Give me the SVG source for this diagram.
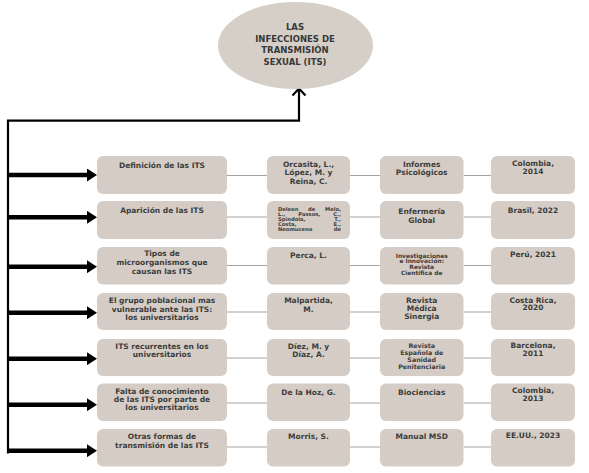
<svg xmlns="http://www.w3.org/2000/svg" width="589" height="473" viewBox="0 0 589 473">
<defs>
<style>
.bx{fill:#d5cdc5;}
.t{font-family:"DejaVu Sans","Liberation Sans",sans-serif;font-weight:bold;font-size:7.5px;fill:#3c3c3c;text-anchor:middle;}
.s{font-size:5.2px;}
.m{font-size:5.9px;}
.p{font-size:6.3px;}
.st{text-anchor:start;}
.en{text-anchor:end;}
.ti{font-size:8.5px;fill:#383838;}
.conn{stroke:#a3a3a3;stroke-width:1;fill:none;}
.bus{stroke:#000;stroke-width:2.2;fill:none;}
.arr{stroke:#000;stroke-width:4.6;fill:none;marker-end:url(#head);}
</style>
<marker id="head" markerUnits="userSpaceOnUse" markerWidth="10" markerHeight="13" refX="2" refY="6.5" orient="auto">
<path d="M0,0 L10,6.5 L0,13 Z" fill="#000"/>
</marker>
</defs>
<rect width="589" height="473" fill="#fff"/>

<g id="connectors">
<path class="bus" d="M8,453.5 V120.7 H299 V89"/>
<path class="bus" d="M292.5,95.5 L299,88.5 L305.5,95.5"/>
<line class="arr" x1="8" y1="175" x2="89" y2="175"/>
<line class="arr" x1="8" y1="217.3" x2="89" y2="217.3"/>
<line class="arr" x1="8" y1="266.7" x2="89" y2="266.7"/>
<line class="arr" x1="8" y1="312.7" x2="89" y2="312.7"/>
<line class="arr" x1="8" y1="358.7" x2="89" y2="358.7"/>
<line class="arr" x1="8" y1="404.7" x2="89" y2="404.7"/>
<line class="arr" x1="8" y1="450.7" x2="89" y2="450.7"/>
<path class="conn" d="M227,175.5 H267 M350,175.5 H380 M463.5,175.5 H491"/>
<path class="conn" d="M227,217 H267 M350,217 H380 M463.5,217 H491"/>
<path class="conn" d="M227,265.5 H267 M350,265.5 H380 M463.5,265.5 H491"/>
<path class="conn" d="M227,312 H267 M350,312 H380 M463.5,312 H491"/>
<path class="conn" d="M227,358 H267 M350,358 H380 M463.5,358 H491"/>
<path class="conn" d="M227,403 H267 M350,403 H380 M463.5,403 H491"/>
<path class="conn" d="M227,447 H267 M350,447 H380 M463.5,447 H491"/>
</g>

<g id="n-title">
<ellipse cx="295.5" cy="45.5" rx="77.5" ry="43.5" fill="#d6cfc8"/>
<text class="t ti" x="295" y="30.1">LAS</text>
<text class="t ti" x="295" y="41.6">INFECCIONES DE</text>
<text class="t ti" x="295" y="53.1">TRANSMISIÓN</text>
<text class="t ti" x="295" y="64.6">SEXUAL (ITS)</text>
</g>

<!-- Row 1 -->
<g id="r1-tema"><rect class="bx" x="97" y="156" width="130" height="38" rx="6"/>
<text class="t" x="162" y="167.7">Definición de las ITS</text></g>
<g id="r1-autor"><rect class="bx" x="267" y="156" width="83" height="38" rx="6"/>
<text class="t" x="308.5" y="167">Orcasita, L.,</text>
<text class="t" x="308.5" y="175.4">López, M. y</text>
<text class="t" x="308.5" y="183.7">Reina, C.</text></g>
<g id="r1-fuente"><rect class="bx" x="380" y="156" width="83.5" height="38" rx="6"/>
<text class="t" x="421.7" y="167">Informes</text>
<text class="t" x="421.7" y="175.4">Psicológicos</text></g>
<g id="r1-lugar"><rect class="bx" x="491" y="156" width="84" height="38" rx="6"/>
<text class="t" x="533" y="166">Colombia,</text>
<text class="t" x="533" y="174.4">2014</text></g>

<!-- Row 2 -->
<g id="r2-tema"><rect class="bx" x="97" y="201" width="130" height="38" rx="6"/>
<text class="t" x="162" y="212.7">Aparición de las ITS</text></g>
<g id="r2-autor"><rect class="bx" x="267" y="201" width="83" height="38" rx="6"/>
<text class="t s st" x="278" y="210.9">Deleon</text><text class="t s" x="311.7" y="210.9">de</text><text class="t s en" x="341" y="210.9">Melo,</text>
<text class="t s st" x="278" y="215.9">L.,</text><text class="t s" x="309.3" y="215.9">Passos,</text><text class="t s en" x="341" y="215.9">C.,</text>
<text class="t s st" x="278" y="220.9">Spindola,</text><text class="t s en" x="341" y="220.9">T.,</text>
<text class="t s st" x="278" y="225.9">Costa,</text><text class="t s en" x="341" y="225.9">E.,</text>
<text class="t s st" x="278" y="230.9">Neomuceno</text><text class="t s en" x="341" y="230.9">de</text></g>
<g id="r2-fuente"><rect class="bx" x="380" y="201" width="83.5" height="38" rx="6"/>
<text class="t" x="421.7" y="214.2">Enfermería</text>
<text class="t" x="421.7" y="222.7">Global</text></g>
<g id="r2-lugar"><rect class="bx" x="491" y="201" width="84" height="38" rx="6"/>
<text class="t" x="533" y="212.7">Brasil, 2022</text></g>

<!-- Row 3 -->
<g id="r3-tema"><rect class="bx" x="97" y="247" width="130" height="37.5" rx="6"/>
<text class="t" x="162" y="256">Tipos de</text>
<text class="t" x="162" y="265">microorganismos que</text>
<text class="t" x="162" y="273.7">causan las ITS</text></g>
<g id="r3-autor"><rect class="bx" x="267" y="247" width="83" height="37.5" rx="6"/>
<text class="t" x="308.5" y="258.2">Perca, L.</text></g>
<g id="r3-fuente"><rect class="bx" x="380" y="247" width="83.5" height="37.5" rx="6"/>
<text class="t m" x="421.7" y="257.6">Investigaciones</text>
<text class="t m" x="421.7" y="263.4">e Innovación:</text>
<text class="t m" x="421.7" y="269.2">Revista</text>
<text class="t m" x="421.7" y="275">Científica de</text></g>
<g id="r3-lugar"><rect class="bx" x="491" y="247" width="84" height="37.5" rx="6"/>
<text class="t" x="533" y="256.7">Perú, 2021</text></g>

<!-- Row 4 -->
<g id="r4-tema"><rect class="bx" x="97" y="293" width="130" height="37" rx="6"/>
<text class="t" x="162" y="303.4">El grupo poblacional mas</text>
<text class="t" x="162" y="312">vulnerable ante las ITS:</text>
<text class="t" x="162" y="320">los universitarios</text></g>
<g id="r4-autor"><rect class="bx" x="267" y="293" width="83" height="37" rx="6"/>
<text class="t" x="308.5" y="303.4">Malpartida,</text>
<text class="t" x="308.5" y="311.7">M.</text></g>
<g id="r4-fuente"><rect class="bx" x="380" y="293" width="83.5" height="37" rx="6"/>
<text class="t" x="421.7" y="303.4">Revista</text>
<text class="t" x="421.7" y="311">Médica</text>
<text class="t" x="421.7" y="319.4">Sinergia</text></g>
<g id="r4-lugar"><rect class="bx" x="491" y="293" width="84" height="37" rx="6"/>
<text class="t" x="533" y="302.7">Costa Rica,</text>
<text class="t" x="533" y="310.4">2020</text></g>

<!-- Row 5 -->
<g id="r5-tema"><rect class="bx" x="97" y="339" width="130" height="37" rx="6"/>
<text class="t" x="162" y="349.4">ITS recurrentes en los</text>
<text class="t" x="162" y="357">universitarios</text></g>
<g id="r5-autor"><rect class="bx" x="267" y="339" width="83" height="37" rx="6"/>
<text class="t" x="308.5" y="349.4">Díez, M. y</text>
<text class="t" x="308.5" y="357">Díaz, A.</text></g>
<g id="r5-fuente"><rect class="bx" x="380" y="339" width="83.5" height="37" rx="6"/>
<text class="t p" x="421.7" y="348.3">Revista</text>
<text class="t p" x="421.7" y="355">Española de</text>
<text class="t p" x="421.7" y="362.3">Sanidad</text>
<text class="t p" x="421.7" y="369">Penitenciaria</text></g>
<g id="r5-lugar"><rect class="bx" x="491" y="339" width="84" height="37" rx="6"/>
<text class="t" x="533" y="347.7">Barcelona,</text>
<text class="t" x="533" y="356">2011</text></g>

<!-- Row 6 -->
<g id="r6-tema"><rect class="bx" x="97" y="383.5" width="130" height="37.5" rx="6"/>
<text class="t" x="162" y="393.7">Falta de conocimiento</text>
<text class="t" x="162" y="401.7">de las ITS por parte de</text>
<text class="t" x="162" y="410">los universitarios</text></g>
<g id="r6-autor"><rect class="bx" x="267" y="383.5" width="83" height="37.5" rx="6"/>
<text class="t" x="308.5" y="395">De la Hoz, G.</text></g>
<g id="r6-fuente"><rect class="bx" x="380" y="383.5" width="83.5" height="37.5" rx="6"/>
<text class="t" x="421.7" y="395">Biociencias</text></g>
<g id="r6-lugar"><rect class="bx" x="491" y="383.5" width="84" height="37.5" rx="6"/>
<text class="t" x="533" y="392.7">Colombia,</text>
<text class="t" x="533" y="401">2013</text></g>

<!-- Row 7 -->
<g id="r7-tema"><rect class="bx" x="97" y="429" width="130" height="37.5" rx="6"/>
<text class="t" x="162" y="439.4">Otras formas de</text>
<text class="t" x="162" y="447.7">transmisión de las ITS</text></g>
<g id="r7-autor"><rect class="bx" x="267" y="429" width="83" height="37.5" rx="6"/>
<text class="t" x="308.5" y="439.4">Morris, S.</text></g>
<g id="r7-fuente"><rect class="bx" x="380" y="429" width="83.5" height="37.5" rx="6"/>
<text class="t" x="421.7" y="439.4">Manual MSD</text></g>
<g id="r7-lugar"><rect class="bx" x="491" y="429" width="84" height="37.5" rx="6"/>
<text class="t" x="533" y="438.4">EE.UU., 2023</text></g>
</svg>
